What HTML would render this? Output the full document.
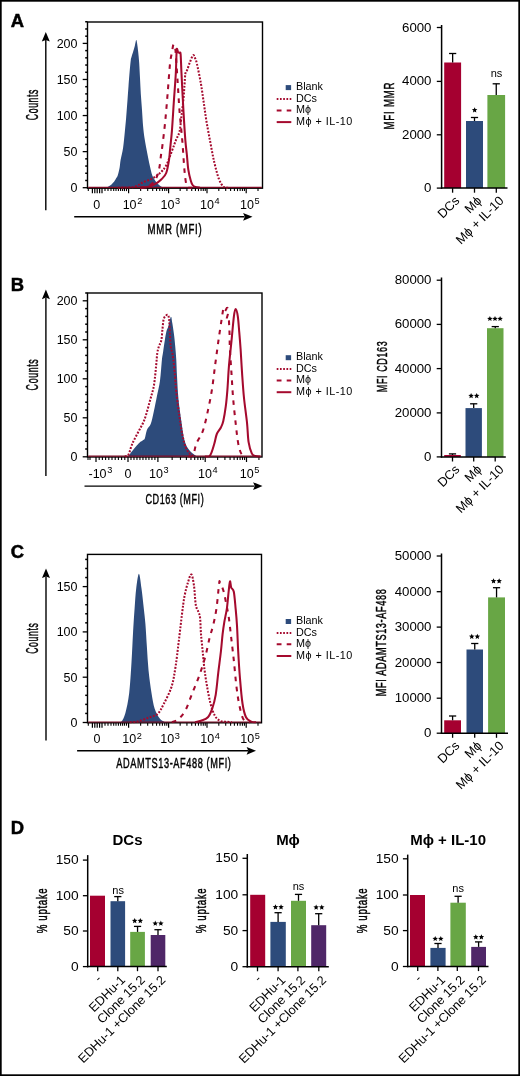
<!DOCTYPE html>
<html><head><meta charset="utf-8"><title>Figure</title>
<style>html,body{margin:0;padding:0;background:#fff;}svg{display:block;will-change:transform;}text{font-family:"Liberation Sans",sans-serif;}</style>
</head><body>
<svg width="520" height="1076" viewBox="0 0 520 1076" font-family="Liberation Sans, sans-serif">
<rect x="0" y="0" width="520" height="1076" fill="#fff"/>
<text x="10.7" y="26.8" font-size="18.4" text-anchor="start" font-weight="bold" fill="#000" stroke="#000" stroke-width="0.5">A</text>
<text x="10.7" y="291.3" font-size="18.4" text-anchor="start" font-weight="bold" fill="#000" stroke="#000" stroke-width="0.5">B</text>
<text x="10.7" y="557.6" font-size="18.4" text-anchor="start" font-weight="bold" fill="#000" stroke="#000" stroke-width="0.5">C</text>
<text x="10.7" y="833.8" font-size="18.4" text-anchor="start" font-weight="bold" fill="#000" stroke="#000" stroke-width="0.5">D</text>
<rect x="87.5" y="22" width="175" height="166.2" fill="none" stroke="#000" stroke-width="1.4"/>
<line x1="82.7" y1="187.7" x2="87.5" y2="187.7" stroke="#000" stroke-width="1.3" />
<line x1="85.2" y1="180.48" x2="87.5" y2="180.48" stroke="#000" stroke-width="1.5" />
<line x1="85.2" y1="173.27" x2="87.5" y2="173.27" stroke="#000" stroke-width="1.5" />
<line x1="85.2" y1="166.05" x2="87.5" y2="166.05" stroke="#000" stroke-width="1.5" />
<line x1="85.2" y1="158.84" x2="87.5" y2="158.84" stroke="#000" stroke-width="1.5" />
<line x1="82.7" y1="151.62" x2="87.5" y2="151.62" stroke="#000" stroke-width="1.3" />
<line x1="85.2" y1="144.41" x2="87.5" y2="144.41" stroke="#000" stroke-width="1.5" />
<line x1="85.2" y1="137.19" x2="87.5" y2="137.19" stroke="#000" stroke-width="1.5" />
<line x1="85.2" y1="129.98" x2="87.5" y2="129.98" stroke="#000" stroke-width="1.5" />
<line x1="85.2" y1="122.76" x2="87.5" y2="122.76" stroke="#000" stroke-width="1.5" />
<line x1="82.7" y1="115.55" x2="87.5" y2="115.55" stroke="#000" stroke-width="1.3" />
<line x1="85.2" y1="108.33" x2="87.5" y2="108.33" stroke="#000" stroke-width="1.5" />
<line x1="85.2" y1="101.12" x2="87.5" y2="101.12" stroke="#000" stroke-width="1.5" />
<line x1="85.2" y1="93.9" x2="87.5" y2="93.9" stroke="#000" stroke-width="1.5" />
<line x1="85.2" y1="86.69" x2="87.5" y2="86.69" stroke="#000" stroke-width="1.5" />
<line x1="82.7" y1="79.47" x2="87.5" y2="79.47" stroke="#000" stroke-width="1.3" />
<line x1="85.2" y1="72.26" x2="87.5" y2="72.26" stroke="#000" stroke-width="1.5" />
<line x1="85.2" y1="65.04" x2="87.5" y2="65.04" stroke="#000" stroke-width="1.5" />
<line x1="85.2" y1="57.83" x2="87.5" y2="57.83" stroke="#000" stroke-width="1.5" />
<line x1="85.2" y1="50.61" x2="87.5" y2="50.61" stroke="#000" stroke-width="1.5" />
<line x1="82.7" y1="43.4" x2="87.5" y2="43.4" stroke="#000" stroke-width="1.3" />
<line x1="85.2" y1="36.18" x2="87.5" y2="36.18" stroke="#000" stroke-width="1.5" />
<line x1="85.2" y1="28.97" x2="87.5" y2="28.97" stroke="#000" stroke-width="1.5" />
<line x1="85.2" y1="21.75" x2="87.5" y2="21.75" stroke="#000" stroke-width="1.5" />
<text x="77.5" y="192.1" font-size="12.5" text-anchor="end" font-weight="normal" fill="#000" >0</text>
<text x="77.5" y="156.03" font-size="12.5" text-anchor="end" font-weight="normal" fill="#000" >50</text>
<text x="77.5" y="119.95" font-size="12.5" text-anchor="end" font-weight="normal" fill="#000" >100</text>
<text x="77.5" y="83.87" font-size="12.5" text-anchor="end" font-weight="normal" fill="#000" >150</text>
<text x="77.5" y="47.8" font-size="12.5" text-anchor="end" font-weight="normal" fill="#000" >200</text>
<line x1="97.2" y1="188.2" x2="97.2" y2="193.2" stroke="#000" stroke-width="1.2" />
<line x1="128.6" y1="188.2" x2="128.6" y2="193.2" stroke="#000" stroke-width="1.2" />
<line x1="168.6" y1="188.2" x2="168.6" y2="193.2" stroke="#000" stroke-width="1.2" />
<line x1="207" y1="188.2" x2="207" y2="193.2" stroke="#000" stroke-width="1.2" />
<line x1="246.2" y1="188.2" x2="246.2" y2="193.2" stroke="#000" stroke-width="1.2" />
<line x1="92.4" y1="188.2" x2="92.4" y2="193.2" stroke="#000" stroke-width="1.2" />
<line x1="94.8" y1="188.2" x2="94.8" y2="193.2" stroke="#000" stroke-width="1.2" />
<line x1="99.6" y1="188.2" x2="99.6" y2="193.2" stroke="#000" stroke-width="1.2" />
<line x1="102" y1="188.2" x2="102" y2="193.2" stroke="#000" stroke-width="1.2" />
<line x1="88.3" y1="188.2" x2="88.3" y2="191.1" stroke="#000" stroke-width="1.1" />
<line x1="105" y1="188.2" x2="105" y2="191.1" stroke="#000" stroke-width="1.1" />
<line x1="108" y1="188.2" x2="108" y2="191.1" stroke="#000" stroke-width="1.1" />
<line x1="111" y1="188.2" x2="111" y2="191.1" stroke="#000" stroke-width="1.1" />
<line x1="113.7" y1="188.2" x2="113.7" y2="191.1" stroke="#000" stroke-width="1.1" />
<line x1="116" y1="188.2" x2="116" y2="191.1" stroke="#000" stroke-width="1.1" />
<line x1="118.4" y1="188.2" x2="118.4" y2="191.1" stroke="#000" stroke-width="1.1" />
<line x1="120.6" y1="188.2" x2="120.6" y2="191.1" stroke="#000" stroke-width="1.1" />
<line x1="122.6" y1="188.2" x2="122.6" y2="191.1" stroke="#000" stroke-width="1.1" />
<line x1="124.5" y1="188.2" x2="124.5" y2="191.1" stroke="#000" stroke-width="1.1" />
<line x1="126.5" y1="188.2" x2="126.5" y2="191.1" stroke="#000" stroke-width="1.1" />
<line x1="140.64" y1="188.2" x2="140.64" y2="191.1" stroke="#000" stroke-width="1.1" />
<line x1="147.68" y1="188.2" x2="147.68" y2="191.1" stroke="#000" stroke-width="1.1" />
<line x1="152.68" y1="188.2" x2="152.68" y2="191.1" stroke="#000" stroke-width="1.1" />
<line x1="156.56" y1="188.2" x2="156.56" y2="191.1" stroke="#000" stroke-width="1.1" />
<line x1="159.73" y1="188.2" x2="159.73" y2="191.1" stroke="#000" stroke-width="1.1" />
<line x1="162.4" y1="188.2" x2="162.4" y2="191.1" stroke="#000" stroke-width="1.1" />
<line x1="164.72" y1="188.2" x2="164.72" y2="191.1" stroke="#000" stroke-width="1.1" />
<line x1="166.77" y1="188.2" x2="166.77" y2="191.1" stroke="#000" stroke-width="1.1" />
<line x1="180.16" y1="188.2" x2="180.16" y2="191.1" stroke="#000" stroke-width="1.1" />
<line x1="186.92" y1="188.2" x2="186.92" y2="191.1" stroke="#000" stroke-width="1.1" />
<line x1="191.72" y1="188.2" x2="191.72" y2="191.1" stroke="#000" stroke-width="1.1" />
<line x1="195.44" y1="188.2" x2="195.44" y2="191.1" stroke="#000" stroke-width="1.1" />
<line x1="198.48" y1="188.2" x2="198.48" y2="191.1" stroke="#000" stroke-width="1.1" />
<line x1="201.05" y1="188.2" x2="201.05" y2="191.1" stroke="#000" stroke-width="1.1" />
<line x1="203.28" y1="188.2" x2="203.28" y2="191.1" stroke="#000" stroke-width="1.1" />
<line x1="205.24" y1="188.2" x2="205.24" y2="191.1" stroke="#000" stroke-width="1.1" />
<line x1="218.8" y1="188.2" x2="218.8" y2="191.1" stroke="#000" stroke-width="1.1" />
<line x1="225.7" y1="188.2" x2="225.7" y2="191.1" stroke="#000" stroke-width="1.1" />
<line x1="230.6" y1="188.2" x2="230.6" y2="191.1" stroke="#000" stroke-width="1.1" />
<line x1="234.4" y1="188.2" x2="234.4" y2="191.1" stroke="#000" stroke-width="1.1" />
<line x1="237.5" y1="188.2" x2="237.5" y2="191.1" stroke="#000" stroke-width="1.1" />
<line x1="240.13" y1="188.2" x2="240.13" y2="191.1" stroke="#000" stroke-width="1.1" />
<line x1="242.4" y1="188.2" x2="242.4" y2="191.1" stroke="#000" stroke-width="1.1" />
<line x1="244.41" y1="188.2" x2="244.41" y2="191.1" stroke="#000" stroke-width="1.1" />
<line x1="258" y1="188.2" x2="258" y2="191.1" stroke="#000" stroke-width="1.1" />
<text x="93.2" y="208.7" font-size="12.5" text-anchor="start" font-weight="normal" fill="#000" >0</text>
<text x="122.65" y="208.7" font-size="12.5">10<tspan dx="0.6" dy="-4.6" font-size="9.2">2</tspan></text>
<text x="160.45" y="208.7" font-size="12.5">10<tspan dx="0.6" dy="-4.6" font-size="9.2">3</tspan></text>
<text x="200.05" y="208.7" font-size="12.5">10<tspan dx="0.6" dy="-4.6" font-size="9.2">4</tspan></text>
<text x="240.05" y="208.7" font-size="12.5">10<tspan dx="0.6" dy="-4.6" font-size="9.2">5</tspan></text>
<path d="M103,187.7 C103.58,187.65 105.53,187.65 106.5,187.4 C107.47,187.15 107.97,186.68 108.8,186.2 C109.63,185.72 110.6,185.28 111.5,184.5 C112.4,183.72 113.4,182.58 114.2,181.5 C115,180.42 115.72,179.02 116.3,178 C116.88,176.98 117.15,177.12 117.7,175.4 C118.25,173.68 119.12,170.27 119.6,167.7 C120.08,165.13 120.02,163.33 120.6,160 C121.18,156.67 122.4,152.37 123.1,147.7 C123.8,143.03 124.28,137.13 124.8,132 C125.32,126.87 125.75,122.23 126.2,116.9 C126.65,111.57 127.12,105.12 127.5,100 C127.88,94.88 128.15,90.87 128.5,86.2 C128.85,81.53 129.22,76.37 129.6,72 C129.98,67.63 130.48,62.52 130.8,60 C131.12,57.48 131.1,58.32 131.5,56.9 C131.9,55.48 132.65,53.32 133.2,51.5 C133.75,49.68 134.3,47.92 134.8,46 C135.3,44.08 135.8,40.33 136.2,40 C136.6,39.67 136.87,42 137.2,44 C137.53,46 137.87,48.83 138.2,52 C138.53,55.17 138.9,58.67 139.2,63 C139.5,67.33 139.73,72.87 140,78 C140.27,83.13 140.47,88.47 140.8,93.8 C141.13,99.13 141.62,104.6 142,110 C142.38,115.4 142.68,121.53 143.1,126.2 C143.52,130.87 143.98,134.42 144.5,138 C145.02,141.58 145.65,144.7 146.2,147.7 C146.75,150.7 147.3,153.45 147.8,156 C148.3,158.55 148.7,160.67 149.2,163 C149.7,165.33 150.28,167.93 150.8,170 C151.32,172.07 151.68,173.82 152.3,175.4 C152.92,176.98 153.72,178.23 154.5,179.5 C155.28,180.77 155.83,181.78 157,183 C158.17,184.22 160,186.02 161.5,186.8 C163,187.58 165.25,187.55 166,187.7 Z" fill="#2d4b7b" stroke="none"/>
<path d="M118,187.7 C120.63,187.57 129.63,187.8 133.8,186.9 C137.97,186 139.92,183.7 143,182.3 C146.08,180.9 149.47,180.05 152.3,178.5 C155.13,176.95 157.68,175.18 160,173 C162.32,170.82 164.15,169.23 166.2,165.4 C168.25,161.57 170.67,154.23 172.3,150 C173.93,145.77 174.78,143.13 176,140 C177.22,136.87 178.68,135.23 179.6,131.2 C180.52,127.17 180.85,121.25 181.5,115.8 C182.15,110.35 183,103.63 183.5,98.5 C184,93.37 184.18,89.17 184.5,85 C184.82,80.83 184.93,76.07 185.4,73.5 C185.87,70.93 186.53,71.52 187.3,69.6 C188.07,67.68 189.03,64.4 190,62 C190.97,59.6 192.27,55.87 193.1,55.2 C193.93,54.53 194.37,56.57 195,58 C195.63,59.43 195.93,59.63 196.9,63.8 C197.87,67.97 199.67,76.58 200.8,83 C201.93,89.42 202.75,95.88 203.7,102.3 C204.65,108.72 205.38,114.77 206.5,121.5 C207.62,128.23 209.12,135.97 210.4,142.7 C211.68,149.43 212.77,155.82 214.2,161.9 C215.63,167.98 217.4,175.02 219,179.2 C220.6,183.38 222.3,185.58 223.8,187 C225.3,188.42 227.3,187.58 228,187.7" fill="none" stroke="#a50a2e" stroke-width="2.05" stroke-linejoin="round" stroke-dasharray="1.9 1.5"/>
<path d="M140,187.7 C140.83,187.58 143.17,187.53 145,187 C146.83,186.47 149.33,185.67 151,184.5 C152.67,183.33 153.92,181.58 155,180 C156.08,178.42 156.75,177.17 157.5,175 C158.25,172.83 158.92,170.33 159.5,167 C160.08,163.67 160.53,158.42 161,155 C161.47,151.58 161.6,152.08 162.3,146.5 C163,140.92 164.3,130.47 165.2,121.5 C166.1,112.53 166.9,102.32 167.7,92.7 C168.5,83.08 169.28,70.58 170,63.8 C170.72,57.02 171.42,55.27 172,52 C172.58,48.73 173,44.87 173.5,44.2 C174,43.53 174.62,46.33 175,48 C175.38,49.67 175.35,48.37 175.8,54.2 C176.25,60.03 177.07,73.38 177.7,83 C178.33,92.62 178.83,102.27 179.6,111.9 C180.37,121.53 181.5,131.18 182.3,140.8 C183.1,150.42 183.75,162.4 184.4,169.6 C185.05,176.8 185.6,181.02 186.2,184 C186.8,186.98 187.03,186.88 188,187.5 C188.97,188.12 191.33,187.67 192,187.7" fill="none" stroke="#a50a2e" stroke-width="2.05" stroke-linejoin="round" stroke-dasharray="4.6 5.4"/>
<path d="M140,187.7 C141.28,187.58 145.13,187.65 147.7,187 C150.27,186.35 153.1,185.1 155.4,183.8 C157.7,182.5 159.7,181 161.5,179.2 C163.3,177.4 164.95,176.2 166.2,173 C167.45,169.8 168.37,163.83 169,160 C169.63,156.17 169.52,154.8 170,150 C170.48,145.2 171.27,139.15 171.9,131.2 C172.53,123.25 173.15,111.92 173.8,102.3 C174.45,92.68 175.32,82.22 175.8,73.5 C176.28,64.78 176.33,53.58 176.7,50 C177.07,46.42 177.53,51.5 178,52 C178.47,52.5 179.07,52.63 179.5,53 C179.93,53.37 180.27,50.78 180.6,54.2 C180.93,57.62 181.02,63.88 181.5,73.5 C181.98,83.12 182.85,100.68 183.5,111.9 C184.15,123.12 184.83,133.62 185.4,140.8 C185.97,147.98 186.42,150.2 186.9,155 C187.38,159.8 187.65,165.3 188.3,169.6 C188.95,173.9 190.08,178.23 190.8,180.8 C191.52,183.37 191.83,183.97 192.6,185 C193.37,186.03 194.17,186.55 195.4,187 C196.63,187.45 199.23,187.58 200,187.7" fill="none" stroke="#a50a2e" stroke-width="2.05" stroke-linejoin="round" />
<line x1="88.2" y1="187.4" x2="261.8" y2="187.4" stroke="#7d0a24" stroke-width="1.2" />
<line x1="45.8" y1="210.2" x2="45.8" y2="40" stroke="#000" stroke-width="1.4" />
<path d="M45.8,32 L41.8,41.6 L45.8,39.9 L49.8,41.6 Z" fill="#000"/>
<line x1="74.2" y1="216.8" x2="244.5" y2="216.8" stroke="#000" stroke-width="1.4" />
<path d="M252.5,216.8 L243.1,212.9 L244.8,216.8 L243.1,220.7 Z" fill="#000"/>
<text transform="translate(37.6,104.9) rotate(-90) scale(0.5251,1)" x="0" y="0" font-size="16.5" text-anchor="middle" textLength="58.09" lengthAdjust="spacing" stroke="#000" stroke-width="0.45">Counts</text>
<text transform="translate(174.6,233.8) scale(0.6657,1)" x="0" y="0" font-size="14.5" text-anchor="middle" textLength="81.42" lengthAdjust="spacing" stroke="#000" stroke-width="0.45">MMR (MFI)</text>
<rect x="285.7" y="85.1" width="5.4" height="5" fill="#2d4b7b"/>
<text x="296" y="90.1" font-size="10.8" text-anchor="start" font-weight="normal" fill="#000" >Blank</text>
<text x="296" y="101.7" font-size="10.8" text-anchor="start" font-weight="normal" fill="#000" >DCs</text>
<text x="296" y="113.3" font-size="10.8" text-anchor="start" font-weight="normal" fill="#000" >M&#981;</text>
<text x="296" y="125.1" font-size="10.8" text-anchor="start" font-weight="normal" fill="#000" textLength="56.3" lengthAdjust="spacing">M&#981; + IL-10</text>
<line x1="276.7" y1="99" x2="291.3" y2="99" stroke="#a50a2e" stroke-width="2" stroke-dasharray="1.7 1.55"/>
<line x1="276.7" y1="110.4" x2="291.3" y2="110.4" stroke="#a50a2e" stroke-width="2" stroke-dasharray="4.8 5.2"/>
<line x1="276.7" y1="122.1" x2="291.3" y2="122.1" stroke="#a50a2e" stroke-width="2" />
<rect x="87.5" y="293" width="174.5" height="164" fill="none" stroke="#000" stroke-width="1.4"/>
<line x1="82.7" y1="456.8" x2="87.5" y2="456.8" stroke="#000" stroke-width="1.3" />
<line x1="85.2" y1="449" x2="87.5" y2="449" stroke="#000" stroke-width="1.5" />
<line x1="85.2" y1="441.2" x2="87.5" y2="441.2" stroke="#000" stroke-width="1.5" />
<line x1="85.2" y1="433.4" x2="87.5" y2="433.4" stroke="#000" stroke-width="1.5" />
<line x1="85.2" y1="425.6" x2="87.5" y2="425.6" stroke="#000" stroke-width="1.5" />
<line x1="82.7" y1="417.8" x2="87.5" y2="417.8" stroke="#000" stroke-width="1.3" />
<line x1="85.2" y1="410" x2="87.5" y2="410" stroke="#000" stroke-width="1.5" />
<line x1="85.2" y1="402.2" x2="87.5" y2="402.2" stroke="#000" stroke-width="1.5" />
<line x1="85.2" y1="394.4" x2="87.5" y2="394.4" stroke="#000" stroke-width="1.5" />
<line x1="85.2" y1="386.6" x2="87.5" y2="386.6" stroke="#000" stroke-width="1.5" />
<line x1="82.7" y1="378.8" x2="87.5" y2="378.8" stroke="#000" stroke-width="1.3" />
<line x1="85.2" y1="371" x2="87.5" y2="371" stroke="#000" stroke-width="1.5" />
<line x1="85.2" y1="363.2" x2="87.5" y2="363.2" stroke="#000" stroke-width="1.5" />
<line x1="85.2" y1="355.4" x2="87.5" y2="355.4" stroke="#000" stroke-width="1.5" />
<line x1="85.2" y1="347.6" x2="87.5" y2="347.6" stroke="#000" stroke-width="1.5" />
<line x1="82.7" y1="339.8" x2="87.5" y2="339.8" stroke="#000" stroke-width="1.3" />
<line x1="85.2" y1="332" x2="87.5" y2="332" stroke="#000" stroke-width="1.5" />
<line x1="85.2" y1="324.2" x2="87.5" y2="324.2" stroke="#000" stroke-width="1.5" />
<line x1="85.2" y1="316.4" x2="87.5" y2="316.4" stroke="#000" stroke-width="1.5" />
<line x1="85.2" y1="308.6" x2="87.5" y2="308.6" stroke="#000" stroke-width="1.5" />
<line x1="82.7" y1="300.8" x2="87.5" y2="300.8" stroke="#000" stroke-width="1.3" />
<line x1="85.2" y1="293" x2="87.5" y2="293" stroke="#000" stroke-width="1.5" />
<text x="77.5" y="461.2" font-size="12.5" text-anchor="end" font-weight="normal" fill="#000" >0</text>
<text x="77.5" y="422.2" font-size="12.5" text-anchor="end" font-weight="normal" fill="#000" >50</text>
<text x="77.5" y="383.2" font-size="12.5" text-anchor="end" font-weight="normal" fill="#000" >100</text>
<text x="77.5" y="344.2" font-size="12.5" text-anchor="end" font-weight="normal" fill="#000" >150</text>
<text x="77.5" y="305.2" font-size="12.5" text-anchor="end" font-weight="normal" fill="#000" >200</text>
<line x1="96" y1="457" x2="96" y2="462" stroke="#000" stroke-width="1.2" />
<line x1="128" y1="457" x2="128" y2="462" stroke="#000" stroke-width="1.2" />
<line x1="157.9" y1="457" x2="157.9" y2="462" stroke="#000" stroke-width="1.2" />
<line x1="205.2" y1="457" x2="205.2" y2="462" stroke="#000" stroke-width="1.2" />
<line x1="246.5" y1="457" x2="246.5" y2="462" stroke="#000" stroke-width="1.2" />
<line x1="88" y1="457" x2="88" y2="459.9" stroke="#000" stroke-width="1.1" />
<line x1="90" y1="457" x2="90" y2="459.9" stroke="#000" stroke-width="1.1" />
<line x1="99.2" y1="457" x2="99.2" y2="459.9" stroke="#000" stroke-width="1.1" />
<line x1="102.4" y1="457" x2="102.4" y2="459.9" stroke="#000" stroke-width="1.1" />
<line x1="105.6" y1="457" x2="105.6" y2="459.9" stroke="#000" stroke-width="1.1" />
<line x1="108.8" y1="457" x2="108.8" y2="459.9" stroke="#000" stroke-width="1.1" />
<line x1="112" y1="457" x2="112" y2="459.9" stroke="#000" stroke-width="1.1" />
<line x1="115.2" y1="457" x2="115.2" y2="459.9" stroke="#000" stroke-width="1.1" />
<line x1="118.4" y1="457" x2="118.4" y2="459.9" stroke="#000" stroke-width="1.1" />
<line x1="121.6" y1="457" x2="121.6" y2="459.9" stroke="#000" stroke-width="1.1" />
<line x1="124.8" y1="457" x2="124.8" y2="459.9" stroke="#000" stroke-width="1.1" />
<line x1="130.99" y1="457" x2="130.99" y2="459.9" stroke="#000" stroke-width="1.1" />
<line x1="133.98" y1="457" x2="133.98" y2="459.9" stroke="#000" stroke-width="1.1" />
<line x1="136.97" y1="457" x2="136.97" y2="459.9" stroke="#000" stroke-width="1.1" />
<line x1="139.96" y1="457" x2="139.96" y2="459.9" stroke="#000" stroke-width="1.1" />
<line x1="142.95" y1="457" x2="142.95" y2="459.9" stroke="#000" stroke-width="1.1" />
<line x1="145.94" y1="457" x2="145.94" y2="459.9" stroke="#000" stroke-width="1.1" />
<line x1="148.93" y1="457" x2="148.93" y2="459.9" stroke="#000" stroke-width="1.1" />
<line x1="151.92" y1="457" x2="151.92" y2="459.9" stroke="#000" stroke-width="1.1" />
<line x1="154.91" y1="457" x2="154.91" y2="459.9" stroke="#000" stroke-width="1.1" />
<line x1="172.14" y1="457" x2="172.14" y2="459.9" stroke="#000" stroke-width="1.1" />
<line x1="180.47" y1="457" x2="180.47" y2="459.9" stroke="#000" stroke-width="1.1" />
<line x1="186.38" y1="457" x2="186.38" y2="459.9" stroke="#000" stroke-width="1.1" />
<line x1="190.96" y1="457" x2="190.96" y2="459.9" stroke="#000" stroke-width="1.1" />
<line x1="194.71" y1="457" x2="194.71" y2="459.9" stroke="#000" stroke-width="1.1" />
<line x1="197.87" y1="457" x2="197.87" y2="459.9" stroke="#000" stroke-width="1.1" />
<line x1="200.62" y1="457" x2="200.62" y2="459.9" stroke="#000" stroke-width="1.1" />
<line x1="203.04" y1="457" x2="203.04" y2="459.9" stroke="#000" stroke-width="1.1" />
<line x1="217.63" y1="457" x2="217.63" y2="459.9" stroke="#000" stroke-width="1.1" />
<line x1="224.91" y1="457" x2="224.91" y2="459.9" stroke="#000" stroke-width="1.1" />
<line x1="230.07" y1="457" x2="230.07" y2="459.9" stroke="#000" stroke-width="1.1" />
<line x1="234.07" y1="457" x2="234.07" y2="459.9" stroke="#000" stroke-width="1.1" />
<line x1="237.34" y1="457" x2="237.34" y2="459.9" stroke="#000" stroke-width="1.1" />
<line x1="240.1" y1="457" x2="240.1" y2="459.9" stroke="#000" stroke-width="1.1" />
<line x1="242.5" y1="457" x2="242.5" y2="459.9" stroke="#000" stroke-width="1.1" />
<line x1="244.61" y1="457" x2="244.61" y2="459.9" stroke="#000" stroke-width="1.1" />
<line x1="258.93" y1="457" x2="258.93" y2="459.9" stroke="#000" stroke-width="1.1" />
<text x="88.5" y="477.7" font-size="12.5">-10<tspan dx="0.6" dy="-4.6" font-size="9.2">3</tspan></text>
<text x="124.4" y="477.7" font-size="12.5" text-anchor="start" font-weight="normal" fill="#000" >0</text>
<text x="149.05" y="477.7" font-size="12.5">10<tspan dx="0.6" dy="-4.6" font-size="9.2">3</tspan></text>
<text x="198.05" y="477.7" font-size="12.5">10<tspan dx="0.6" dy="-4.6" font-size="9.2">4</tspan></text>
<text x="239.85" y="477.7" font-size="12.5">10<tspan dx="0.6" dy="-4.6" font-size="9.2">5</tspan></text>
<path d="M127.6,456.8 C127.77,456.67 128.03,456.7 128.6,456 C129.17,455.3 130.1,453.8 131,452.6 C131.9,451.4 133,450.02 134,448.8 C135,447.58 135.97,446.43 137,445.3 C138.03,444.17 139.27,442.82 140.2,442 C141.13,441.18 141.83,440.97 142.6,440.4 C143.37,439.83 144.08,440.33 144.8,438.6 C145.52,436.87 145.9,432.47 146.9,430 C147.9,427.53 149.65,426.88 150.8,423.8 C151.95,420.72 152.78,416.1 153.8,411.5 C154.82,406.9 155.87,401.32 156.9,396.2 C157.93,391.08 159.17,386.83 160,380.8 C160.83,374.77 161.38,364.82 161.9,360 C162.42,355.18 162.62,355.17 163.1,351.9 C163.58,348.63 164.23,343.87 164.8,340.4 C165.37,336.93 165.92,333.42 166.5,331.1 C167.08,328.78 167.57,328.9 168.3,326.5 C169.03,324.1 170.23,317.28 170.9,316.7 C171.57,316.12 171.78,320.02 172.3,323 C172.82,325.98 173.52,330.75 174,334.6 C174.48,338.45 174.82,341.87 175.2,346.1 C175.58,350.33 176,355.02 176.3,360 C176.6,364.98 176.63,369.47 177,376 C177.37,382.53 177.75,391.48 178.5,399.2 C179.25,406.92 180.48,415.37 181.5,422.3 C182.52,429.23 183.32,436.18 184.6,440.8 C185.88,445.42 187.4,447.57 189.2,450 C191,452.43 193.93,454.32 195.4,455.4 C196.87,456.48 197.57,456.32 198,456.5 Z" fill="#2d4b7b" stroke="none"/>
<path d="M125,456.5 C125.58,456.18 127.28,456.72 128.5,454.6 C129.72,452.48 130.63,447.65 132.3,443.8 C133.97,439.95 136.45,435.6 138.5,431.5 C140.55,427.4 142.55,424.83 144.6,419.2 C146.65,413.57 149.23,403.4 150.8,397.7 C152.37,392 153.12,390.28 154,385 C154.88,379.72 155.55,371.33 156.1,366 C156.65,360.67 156.82,356.32 157.3,353 C157.78,349.68 158.33,348.2 159,346.1 C159.67,344 160.72,343.28 161.3,340.4 C161.88,337.52 162.12,332.27 162.5,328.8 C162.88,325.33 163.1,321.73 163.6,319.6 C164.1,317.47 164.82,316.8 165.5,316 C166.18,315.2 167.15,314.58 167.7,314.8 C168.25,315.02 168.52,315.93 168.8,317.3 C169.08,318.67 169.2,320.12 169.4,323 C169.6,325.88 169.8,330.75 170,334.6 C170.2,338.45 170.22,343.03 170.6,346.1 C170.98,349.17 171.83,350.68 172.3,353 C172.77,355.32 172.95,356.17 173.4,360 C173.85,363.83 174.53,370.75 175,376 C175.47,381.25 175.5,385.07 176.2,391.5 C176.9,397.93 178.18,407.42 179.2,414.6 C180.22,421.78 181.13,428.95 182.3,434.6 C183.47,440.25 184.78,445.17 186.2,448.5 C187.62,451.83 189.33,453.27 190.8,454.6 C192.27,455.93 194.3,456.18 195,456.5" fill="none" stroke="#a50a2e" stroke-width="2.05" stroke-linejoin="round" stroke-dasharray="1.9 1.5"/>
<path d="M188,456.5 C188.85,456.3 191.72,457.42 193.1,455.3 C194.48,453.18 194.67,447.88 196.3,443.8 C197.93,439.72 200.98,436.25 202.9,430.8 C204.82,425.35 206.3,417.92 207.8,411.1 C209.3,404.28 210.68,397.52 211.9,389.9 C213.12,382.28 214.02,373.57 215.1,365.4 C216.18,357.23 217.55,347 218.4,340.9 C219.25,334.8 219.67,332.37 220.2,328.8 C220.73,325.23 221.2,322.13 221.6,319.5 C222,316.87 222.28,314.83 222.6,313 C222.92,311.17 223.13,308.78 223.5,308.5 C223.87,308.22 224.35,311.18 224.8,311.3 C225.25,311.42 225.77,309.78 226.2,309.2 C226.63,308.62 227.08,307.2 227.4,307.8 C227.72,308.4 228.2,311.02 228.1,312.8 C228,314.58 226.72,317.7 226.8,318.5 C226.88,319.3 228.2,316.35 228.6,317.6 C229,318.85 229.03,323.1 229.2,326 C229.37,328.9 229.48,331.17 229.6,335 C229.72,338.83 229.58,342.57 229.9,349 C230.22,355.43 230.97,365.43 231.5,373.6 C232.03,381.77 232.42,389.83 233.1,398 C233.78,406.17 234.78,415.23 235.6,422.6 C236.42,429.97 237.18,437.3 238,442.2 C238.82,447.1 239.68,449.82 240.5,452 C241.32,454.18 241.98,454.55 242.9,455.3 C243.82,456.05 245.48,456.3 246,456.5" fill="none" stroke="#a50a2e" stroke-width="2.05" stroke-linejoin="round" stroke-dasharray="4.6 5.4"/>
<path d="M205,456.5 C205.87,456.3 208.65,457.42 210.2,455.3 C211.75,453.18 213.2,447.35 214.3,443.8 C215.4,440.25 215.7,436.72 216.8,434 C217.9,431.28 219.82,429.67 220.9,427.5 C221.98,425.33 222.48,424.55 223.3,421 C224.12,417.45 225.12,411.38 225.8,406.2 C226.48,401.02 226.87,396.7 227.4,389.9 C227.93,383.1 228.32,373.57 229,365.4 C229.68,357.23 230.68,349.08 231.5,340.9 C232.32,332.72 233.22,321.62 233.9,316.3 C234.58,310.98 234.95,309 235.6,309 C236.25,309 237.18,312.35 237.8,316.3 C238.42,320.25 238.83,327.25 239.3,332.7 C239.77,338.15 240.13,342.18 240.6,349 C241.07,355.82 241.53,365.43 242.1,373.6 C242.67,381.77 243.18,389.83 244,398 C244.82,406.17 246.23,415.23 247,422.6 C247.77,429.97 247.78,437.03 248.6,442.2 C249.42,447.37 250.8,451.3 251.9,453.6 C253,455.9 253.85,455.52 255.2,456 C256.55,456.48 259.2,456.42 260,456.5" fill="none" stroke="#a50a2e" stroke-width="2.05" stroke-linejoin="round" />
<line x1="88.2" y1="456.2" x2="261.3" y2="456.2" stroke="#7d0a24" stroke-width="1.2" />
<line x1="45.9" y1="476" x2="45.9" y2="297.6" stroke="#000" stroke-width="1.4" />
<path d="M45.9,289.6 L41.9,299.2 L45.9,297.5 L49.9,299.2 Z" fill="#000"/>
<line x1="84.5" y1="486.1" x2="254.5" y2="486.1" stroke="#000" stroke-width="1.4" />
<path d="M262.5,486.1 L253.1,482.2 L254.8,486.1 L253.1,490 Z" fill="#000"/>
<text transform="translate(38,374.8) rotate(-90) scale(0.5371,1)" x="0" y="0" font-size="16.5" text-anchor="middle" textLength="58.09" lengthAdjust="spacing" stroke="#000" stroke-width="0.45">Counts</text>
<text transform="translate(174.6,503.5) scale(0.6262,1)" x="0" y="0" font-size="14.5" text-anchor="middle" textLength="93.1" lengthAdjust="spacing" stroke="#000" stroke-width="0.45">CD163 (MFI)</text>
<rect x="285.7" y="355.2" width="5.4" height="5" fill="#2d4b7b"/>
<text x="296" y="360.2" font-size="10.8" text-anchor="start" font-weight="normal" fill="#000" >Blank</text>
<text x="296" y="371.8" font-size="10.8" text-anchor="start" font-weight="normal" fill="#000" >DCs</text>
<text x="296" y="383.4" font-size="10.8" text-anchor="start" font-weight="normal" fill="#000" >M&#981;</text>
<text x="296" y="395.2" font-size="10.8" text-anchor="start" font-weight="normal" fill="#000" textLength="56.3" lengthAdjust="spacing">M&#981; + IL-10</text>
<line x1="276.7" y1="369.1" x2="291.3" y2="369.1" stroke="#a50a2e" stroke-width="2" stroke-dasharray="1.7 1.55"/>
<line x1="276.7" y1="380.5" x2="291.3" y2="380.5" stroke="#a50a2e" stroke-width="2" stroke-dasharray="4.8 5.2"/>
<line x1="276.7" y1="392.2" x2="291.3" y2="392.2" stroke="#a50a2e" stroke-width="2" />
<rect x="87.5" y="554.4" width="174" height="168.4" fill="none" stroke="#000" stroke-width="1.4"/>
<line x1="82.7" y1="722.5" x2="87.5" y2="722.5" stroke="#000" stroke-width="1.3" />
<line x1="85.2" y1="713.44" x2="87.5" y2="713.44" stroke="#000" stroke-width="1.5" />
<line x1="85.2" y1="704.38" x2="87.5" y2="704.38" stroke="#000" stroke-width="1.5" />
<line x1="85.2" y1="695.32" x2="87.5" y2="695.32" stroke="#000" stroke-width="1.5" />
<line x1="85.2" y1="686.26" x2="87.5" y2="686.26" stroke="#000" stroke-width="1.5" />
<line x1="82.7" y1="677.2" x2="87.5" y2="677.2" stroke="#000" stroke-width="1.3" />
<line x1="85.2" y1="668.14" x2="87.5" y2="668.14" stroke="#000" stroke-width="1.5" />
<line x1="85.2" y1="659.08" x2="87.5" y2="659.08" stroke="#000" stroke-width="1.5" />
<line x1="85.2" y1="650.02" x2="87.5" y2="650.02" stroke="#000" stroke-width="1.5" />
<line x1="85.2" y1="640.96" x2="87.5" y2="640.96" stroke="#000" stroke-width="1.5" />
<line x1="82.7" y1="631.9" x2="87.5" y2="631.9" stroke="#000" stroke-width="1.3" />
<line x1="85.2" y1="622.84" x2="87.5" y2="622.84" stroke="#000" stroke-width="1.5" />
<line x1="85.2" y1="613.78" x2="87.5" y2="613.78" stroke="#000" stroke-width="1.5" />
<line x1="85.2" y1="604.72" x2="87.5" y2="604.72" stroke="#000" stroke-width="1.5" />
<line x1="85.2" y1="595.66" x2="87.5" y2="595.66" stroke="#000" stroke-width="1.5" />
<line x1="82.7" y1="586.6" x2="87.5" y2="586.6" stroke="#000" stroke-width="1.3" />
<line x1="85.2" y1="577.54" x2="87.5" y2="577.54" stroke="#000" stroke-width="1.5" />
<line x1="85.2" y1="568.48" x2="87.5" y2="568.48" stroke="#000" stroke-width="1.5" />
<line x1="85.2" y1="559.42" x2="87.5" y2="559.42" stroke="#000" stroke-width="1.5" />
<text x="77.5" y="726.9" font-size="12.5" text-anchor="end" font-weight="normal" fill="#000" >0</text>
<text x="77.5" y="681.6" font-size="12.5" text-anchor="end" font-weight="normal" fill="#000" >50</text>
<text x="77.5" y="636.3" font-size="12.5" text-anchor="end" font-weight="normal" fill="#000" >100</text>
<text x="77.5" y="591" font-size="12.5" text-anchor="end" font-weight="normal" fill="#000" >150</text>
<line x1="97.2" y1="722.8" x2="97.2" y2="727.8" stroke="#000" stroke-width="1.2" />
<line x1="128.6" y1="722.8" x2="128.6" y2="727.8" stroke="#000" stroke-width="1.2" />
<line x1="168.6" y1="722.8" x2="168.6" y2="727.8" stroke="#000" stroke-width="1.2" />
<line x1="207" y1="722.8" x2="207" y2="727.8" stroke="#000" stroke-width="1.2" />
<line x1="246.2" y1="722.8" x2="246.2" y2="727.8" stroke="#000" stroke-width="1.2" />
<line x1="92.4" y1="722.8" x2="92.4" y2="727.8" stroke="#000" stroke-width="1.2" />
<line x1="94.8" y1="722.8" x2="94.8" y2="727.8" stroke="#000" stroke-width="1.2" />
<line x1="99.6" y1="722.8" x2="99.6" y2="727.8" stroke="#000" stroke-width="1.2" />
<line x1="102" y1="722.8" x2="102" y2="727.8" stroke="#000" stroke-width="1.2" />
<line x1="88.3" y1="722.8" x2="88.3" y2="725.7" stroke="#000" stroke-width="1.1" />
<line x1="105" y1="722.8" x2="105" y2="725.7" stroke="#000" stroke-width="1.1" />
<line x1="108" y1="722.8" x2="108" y2="725.7" stroke="#000" stroke-width="1.1" />
<line x1="111" y1="722.8" x2="111" y2="725.7" stroke="#000" stroke-width="1.1" />
<line x1="113.7" y1="722.8" x2="113.7" y2="725.7" stroke="#000" stroke-width="1.1" />
<line x1="116" y1="722.8" x2="116" y2="725.7" stroke="#000" stroke-width="1.1" />
<line x1="118.4" y1="722.8" x2="118.4" y2="725.7" stroke="#000" stroke-width="1.1" />
<line x1="120.6" y1="722.8" x2="120.6" y2="725.7" stroke="#000" stroke-width="1.1" />
<line x1="122.6" y1="722.8" x2="122.6" y2="725.7" stroke="#000" stroke-width="1.1" />
<line x1="124.5" y1="722.8" x2="124.5" y2="725.7" stroke="#000" stroke-width="1.1" />
<line x1="126.5" y1="722.8" x2="126.5" y2="725.7" stroke="#000" stroke-width="1.1" />
<line x1="140.64" y1="722.8" x2="140.64" y2="725.7" stroke="#000" stroke-width="1.1" />
<line x1="147.68" y1="722.8" x2="147.68" y2="725.7" stroke="#000" stroke-width="1.1" />
<line x1="152.68" y1="722.8" x2="152.68" y2="725.7" stroke="#000" stroke-width="1.1" />
<line x1="156.56" y1="722.8" x2="156.56" y2="725.7" stroke="#000" stroke-width="1.1" />
<line x1="159.73" y1="722.8" x2="159.73" y2="725.7" stroke="#000" stroke-width="1.1" />
<line x1="162.4" y1="722.8" x2="162.4" y2="725.7" stroke="#000" stroke-width="1.1" />
<line x1="164.72" y1="722.8" x2="164.72" y2="725.7" stroke="#000" stroke-width="1.1" />
<line x1="166.77" y1="722.8" x2="166.77" y2="725.7" stroke="#000" stroke-width="1.1" />
<line x1="180.16" y1="722.8" x2="180.16" y2="725.7" stroke="#000" stroke-width="1.1" />
<line x1="186.92" y1="722.8" x2="186.92" y2="725.7" stroke="#000" stroke-width="1.1" />
<line x1="191.72" y1="722.8" x2="191.72" y2="725.7" stroke="#000" stroke-width="1.1" />
<line x1="195.44" y1="722.8" x2="195.44" y2="725.7" stroke="#000" stroke-width="1.1" />
<line x1="198.48" y1="722.8" x2="198.48" y2="725.7" stroke="#000" stroke-width="1.1" />
<line x1="201.05" y1="722.8" x2="201.05" y2="725.7" stroke="#000" stroke-width="1.1" />
<line x1="203.28" y1="722.8" x2="203.28" y2="725.7" stroke="#000" stroke-width="1.1" />
<line x1="205.24" y1="722.8" x2="205.24" y2="725.7" stroke="#000" stroke-width="1.1" />
<line x1="218.8" y1="722.8" x2="218.8" y2="725.7" stroke="#000" stroke-width="1.1" />
<line x1="225.7" y1="722.8" x2="225.7" y2="725.7" stroke="#000" stroke-width="1.1" />
<line x1="230.6" y1="722.8" x2="230.6" y2="725.7" stroke="#000" stroke-width="1.1" />
<line x1="234.4" y1="722.8" x2="234.4" y2="725.7" stroke="#000" stroke-width="1.1" />
<line x1="237.5" y1="722.8" x2="237.5" y2="725.7" stroke="#000" stroke-width="1.1" />
<line x1="240.13" y1="722.8" x2="240.13" y2="725.7" stroke="#000" stroke-width="1.1" />
<line x1="242.4" y1="722.8" x2="242.4" y2="725.7" stroke="#000" stroke-width="1.1" />
<line x1="244.41" y1="722.8" x2="244.41" y2="725.7" stroke="#000" stroke-width="1.1" />
<line x1="258" y1="722.8" x2="258" y2="725.7" stroke="#000" stroke-width="1.1" />
<text x="93.6" y="743.4" font-size="12.5" text-anchor="start" font-weight="normal" fill="#000" >0</text>
<text x="122.25" y="743.4" font-size="12.5">10<tspan dx="0.6" dy="-4.6" font-size="9.2">2</tspan></text>
<text x="160.25" y="743.4" font-size="12.5">10<tspan dx="0.6" dy="-4.6" font-size="9.2">3</tspan></text>
<text x="200.25" y="743.4" font-size="12.5">10<tspan dx="0.6" dy="-4.6" font-size="9.2">4</tspan></text>
<text x="240.25" y="743.4" font-size="12.5">10<tspan dx="0.6" dy="-4.6" font-size="9.2">5</tspan></text>
<path d="M118,722.3 C118.58,722.17 120.27,723.05 121.5,721.5 C122.73,719.95 124.12,717.75 125.4,713 C126.68,708.25 128.18,701.45 129.2,693 C130.22,684.55 130.85,672.55 131.5,662.3 C132.15,652.05 132.58,640.47 133.1,631.5 C133.62,622.53 134.08,615.67 134.6,608.5 C135.12,601.33 135.48,594.28 136.2,588.5 C136.92,582.72 138.02,573.8 138.9,573.8 C139.78,573.8 140.68,582.72 141.5,588.5 C142.32,594.28 143.15,602.62 143.8,608.5 C144.45,614.38 144.88,617.4 145.4,623.8 C145.92,630.2 146.38,639.2 146.9,646.9 C147.42,654.6 147.73,662.32 148.5,670 C149.27,677.68 150.48,686.58 151.5,693 C152.52,699.42 153.32,704.38 154.6,708.5 C155.88,712.62 157.67,715.53 159.2,717.7 C160.73,719.87 162.5,720.73 163.8,721.5 C165.1,722.27 166.47,722.17 167,722.3 Z" fill="#2d4b7b" stroke="none"/>
<path d="M130,722.3 C131.28,722.17 134.62,722.27 137.7,721.5 C140.78,720.73 145.17,718.98 148.5,717.7 C151.83,716.42 155.15,716.12 157.7,713.8 C160.25,711.48 161.5,708.28 163.8,703.8 C166.1,699.32 169.55,693.03 171.5,686.9 C173.45,680.77 174.28,674.65 175.5,667 C176.72,659.35 177.72,649.83 178.8,641 C179.88,632.17 181.05,621.47 182,614 C182.95,606.53 183.5,601.48 184.5,596.2 C185.5,590.92 186.85,585.92 188,582.3 C189.15,578.68 190.4,573.92 191.4,574.5 C192.4,575.08 193.27,580.72 194,585.8 C194.73,590.88 195.05,600.63 195.8,605 C196.55,609.37 197.78,609.83 198.5,612 C199.22,614.17 199.68,614.3 200.1,618 C200.52,621.7 200.57,628.62 201,634.2 C201.43,639.78 202.13,645.73 202.7,651.5 C203.27,657.27 203.68,663.03 204.4,668.8 C205.12,674.57 205.98,680.32 207,686.1 C208.02,691.88 209.2,698.58 210.5,703.5 C211.8,708.42 213.22,712.72 214.8,715.6 C216.38,718.48 217.98,719.77 220,720.8 C222.02,721.83 224.9,721.55 226.9,721.8 C228.9,722.05 231.15,722.22 232,722.3" fill="none" stroke="#a50a2e" stroke-width="2.05" stroke-linejoin="round" stroke-dasharray="1.9 1.5"/>
<path d="M172,722.3 C173.08,721.75 176.27,720.98 178.5,719 C180.73,717.02 183.1,714.72 185.4,710.4 C187.7,706.08 190,698.87 192.3,693.1 C194.6,687.33 197.03,681.87 199.2,675.8 C201.37,669.73 203.57,663.05 205.3,656.7 C207.03,650.35 208.3,642.88 209.6,637.7 C210.9,632.52 211.95,630.5 213.1,625.6 C214.25,620.7 215.5,615.23 216.5,608.3 C217.5,601.37 218.52,588.33 219.1,584 C219.68,579.67 219.27,581.13 220,582.3 C220.73,583.47 222.48,587.53 223.5,591 C224.52,594.47 225.23,598.78 226.1,603.1 C226.97,607.42 227.85,611.13 228.7,616.9 C229.55,622.67 230.35,630.48 231.2,637.7 C232.05,644.92 232.93,652.13 233.8,660.2 C234.67,668.27 235.53,678.88 236.4,686.1 C237.27,693.32 237.98,698.3 239,703.5 C240.02,708.7 241.33,714.28 242.5,717.3 C243.67,720.32 244.75,720.77 246,721.6 C247.25,722.43 249.33,722.18 250,722.3" fill="none" stroke="#a50a2e" stroke-width="2.05" stroke-linejoin="round" stroke-dasharray="4.6 5.4"/>
<path d="M195,722.3 C196,722.05 198.85,721.63 201,720.8 C203.15,719.97 206.03,719.33 207.9,717.3 C209.77,715.27 210.9,712.35 212.2,708.6 C213.5,704.85 214.68,700.85 215.7,694.8 C216.72,688.75 217.43,679.52 218.3,672.3 C219.17,665.08 220.18,657.85 220.9,651.5 C221.62,645.15 222.03,639.1 222.6,634.2 C223.17,629.3 223.58,626.42 224.3,622.1 C225.02,617.78 226.17,613.48 226.9,608.3 C227.63,603.12 228.18,595.48 228.7,591 C229.22,586.52 229.58,581.98 230,581.4 C230.42,580.82 230.57,585.77 231.2,587.5 C231.83,589.23 233.07,588.33 233.8,591.8 C234.53,595.27 235.07,602.67 235.6,608.3 C236.13,613.93 236.57,618.4 237,625.6 C237.43,632.8 237.72,642.85 238.2,651.5 C238.68,660.15 239.18,668.83 239.9,677.5 C240.62,686.17 241.48,696.87 242.5,703.5 C243.52,710.13 244.55,714.28 246,717.3 C247.45,720.32 249.53,720.77 251.2,721.6 C252.87,722.43 255.2,722.18 256,722.3" fill="none" stroke="#a50a2e" stroke-width="2.05" stroke-linejoin="round" />
<line x1="88.2" y1="722" x2="260.8" y2="722" stroke="#7d0a24" stroke-width="1.2" />
<line x1="46" y1="740.4" x2="46" y2="576.5" stroke="#000" stroke-width="1.4" />
<path d="M46,568.5 L42,578.1 L46,576.4 L50,578.1 Z" fill="#000"/>
<line x1="77.1" y1="750.8" x2="248" y2="750.8" stroke="#000" stroke-width="1.4" />
<path d="M256,750.8 L246.6,746.9 L248.3,750.8 L246.6,754.7 Z" fill="#000"/>
<text transform="translate(38,638.5) rotate(-90) scale(0.5285,1)" x="0" y="0" font-size="16.5" text-anchor="middle" textLength="58.09" lengthAdjust="spacing" stroke="#000" stroke-width="0.45">Counts</text>
<text transform="translate(173.6,768.4) scale(0.6337,1)" x="0" y="0" font-size="14.5" text-anchor="middle" textLength="180.83" lengthAdjust="spacing" stroke="#000" stroke-width="0.45">ADAMTS13-AF488 (MFI)</text>
<rect x="285.7" y="619" width="5.4" height="5" fill="#2d4b7b"/>
<text x="296" y="624" font-size="10.8" text-anchor="start" font-weight="normal" fill="#000" >Blank</text>
<text x="296" y="635.6" font-size="10.8" text-anchor="start" font-weight="normal" fill="#000" >DCs</text>
<text x="296" y="647.2" font-size="10.8" text-anchor="start" font-weight="normal" fill="#000" >M&#981;</text>
<text x="296" y="659" font-size="10.8" text-anchor="start" font-weight="normal" fill="#000" textLength="56.3" lengthAdjust="spacing">M&#981; + IL-10</text>
<line x1="276.7" y1="632.9" x2="291.3" y2="632.9" stroke="#a50a2e" stroke-width="2" stroke-dasharray="1.7 1.55"/>
<line x1="276.7" y1="644.3" x2="291.3" y2="644.3" stroke="#a50a2e" stroke-width="2" stroke-dasharray="4.8 5.2"/>
<line x1="276.7" y1="656" x2="291.3" y2="656" stroke="#a50a2e" stroke-width="2" />
<rect x="444.2" y="62.5" width="16.9" height="125.6" fill="#a50030"/>
<line x1="452.65" y1="62.5" x2="452.65" y2="53.5" stroke="#000" stroke-width="1.3" />
<line x1="449.05" y1="53.5" x2="456.25" y2="53.5" stroke="#000" stroke-width="1.3" />
<rect x="466" y="121" width="17" height="67.1" fill="#2d4b7b"/>
<line x1="474.5" y1="121" x2="474.5" y2="117.5" stroke="#000" stroke-width="1.3" />
<line x1="470.9" y1="117.5" x2="478.1" y2="117.5" stroke="#000" stroke-width="1.3" />
<rect x="487.4" y="95" width="17.7" height="93.1" fill="#68a645"/>
<line x1="496.25" y1="95" x2="496.25" y2="83.8" stroke="#000" stroke-width="1.3" />
<line x1="492.65" y1="83.8" x2="499.85" y2="83.8" stroke="#000" stroke-width="1.3" />
<line x1="441.6" y1="25" x2="441.6" y2="188.8" stroke="#000" stroke-width="1.5" />
<line x1="440.9" y1="188.1" x2="507.5" y2="188.1" stroke="#000" stroke-width="1.5" />
<line x1="436.8" y1="27.5" x2="441.6" y2="27.5" stroke="#000" stroke-width="1.3" />
<text x="431.5" y="31.5" font-size="12.5" text-anchor="end" textLength="29.47" lengthAdjust="spacingAndGlyphs">6000</text>
<line x1="436.8" y1="81.4" x2="441.6" y2="81.4" stroke="#000" stroke-width="1.3" />
<text x="431.5" y="85.4" font-size="12.5" text-anchor="end" textLength="29.47" lengthAdjust="spacingAndGlyphs">4000</text>
<line x1="436.8" y1="134.8" x2="441.6" y2="134.8" stroke="#000" stroke-width="1.3" />
<text x="431.5" y="138.8" font-size="12.5" text-anchor="end" textLength="29.47" lengthAdjust="spacingAndGlyphs">2000</text>
<line x1="436.8" y1="188.1" x2="441.6" y2="188.1" stroke="#000" stroke-width="1.3" />
<text x="431.5" y="192.1" font-size="12.5" text-anchor="end" textLength="7.37" lengthAdjust="spacingAndGlyphs">0</text>
<line x1="452.6" y1="188.1" x2="452.6" y2="192.7" stroke="#000" stroke-width="1.3" />
<line x1="474.5" y1="188.1" x2="474.5" y2="192.7" stroke="#000" stroke-width="1.3" />
<line x1="496.3" y1="188.1" x2="496.3" y2="192.7" stroke="#000" stroke-width="1.3" />
<polygon points="474.65,107.18 475.42,109.02 477.41,109.18 475.89,110.48 476.35,112.42 474.65,111.38 472.95,112.42 473.41,110.48 471.89,109.18 473.88,109.02" fill="#000"/>
<text x="496.45" y="76.7" font-size="11" text-anchor="middle">ns</text>
<text transform="translate(394.3,106) rotate(-90) scale(0.6220,1)" x="0" y="0" font-size="15.5" text-anchor="middle" textLength="75.57" lengthAdjust="spacing" stroke="#000" stroke-width="0.45">MFI MMR</text>
<rect x="444.2" y="455" width="16.6" height="1.9" fill="#a50030"/>
<line x1="452.5" y1="455" x2="452.5" y2="453.9" stroke="#000" stroke-width="1.3" />
<line x1="448.9" y1="453.9" x2="456.1" y2="453.9" stroke="#000" stroke-width="1.3" />
<rect x="465.5" y="408.1" width="16.4" height="48.8" fill="#2d4b7b"/>
<line x1="473.7" y1="408.1" x2="473.7" y2="403.8" stroke="#000" stroke-width="1.3" />
<line x1="470.1" y1="403.8" x2="477.3" y2="403.8" stroke="#000" stroke-width="1.3" />
<rect x="487" y="328.2" width="16.5" height="128.7" fill="#68a645"/>
<line x1="495.25" y1="328.2" x2="495.25" y2="326.6" stroke="#000" stroke-width="1.3" />
<line x1="491.65" y1="326.6" x2="498.85" y2="326.6" stroke="#000" stroke-width="1.3" />
<line x1="441.5" y1="277.5" x2="441.5" y2="457.6" stroke="#000" stroke-width="1.5" />
<line x1="440.8" y1="456.9" x2="505.8" y2="456.9" stroke="#000" stroke-width="1.5" />
<line x1="436.7" y1="280.2" x2="441.5" y2="280.2" stroke="#000" stroke-width="1.3" />
<text x="431.5" y="284.2" font-size="12.5" text-anchor="end" textLength="36.84" lengthAdjust="spacingAndGlyphs">80000</text>
<line x1="436.7" y1="324.4" x2="441.5" y2="324.4" stroke="#000" stroke-width="1.3" />
<text x="431.5" y="328.4" font-size="12.5" text-anchor="end" textLength="36.84" lengthAdjust="spacingAndGlyphs">60000</text>
<line x1="436.7" y1="368.6" x2="441.5" y2="368.6" stroke="#000" stroke-width="1.3" />
<text x="431.5" y="372.6" font-size="12.5" text-anchor="end" textLength="36.84" lengthAdjust="spacingAndGlyphs">40000</text>
<line x1="436.7" y1="412.9" x2="441.5" y2="412.9" stroke="#000" stroke-width="1.3" />
<text x="431.5" y="416.9" font-size="12.5" text-anchor="end" textLength="36.84" lengthAdjust="spacingAndGlyphs">20000</text>
<line x1="436.7" y1="456.9" x2="441.5" y2="456.9" stroke="#000" stroke-width="1.3" />
<text x="431.5" y="460.9" font-size="12.5" text-anchor="end" textLength="7.37" lengthAdjust="spacingAndGlyphs">0</text>
<line x1="452.5" y1="456.9" x2="452.5" y2="461.5" stroke="#000" stroke-width="1.3" />
<line x1="473.7" y1="456.9" x2="473.7" y2="461.5" stroke="#000" stroke-width="1.3" />
<line x1="495.2" y1="456.9" x2="495.2" y2="461.5" stroke="#000" stroke-width="1.3" />
<polygon points="471.1,392.93 471.87,394.77 473.86,394.93 472.34,396.23 472.8,398.17 471.1,397.13 469.4,398.17 469.86,396.23 468.34,394.93 470.33,394.77" fill="#000"/>
<polygon points="476.7,392.93 477.47,394.77 479.46,394.93 477.94,396.23 478.4,398.17 476.7,397.13 475,398.17 475.46,396.23 473.94,394.93 475.93,394.77" fill="#000"/>
<polygon points="489.9,315.88 490.67,317.72 492.66,317.88 491.14,319.18 491.6,321.12 489.9,320.08 488.2,321.12 488.66,319.18 487.14,317.88 489.13,317.72" fill="#000"/>
<polygon points="495,315.88 495.77,317.72 497.76,317.88 496.24,319.18 496.7,321.12 495,320.08 493.3,321.12 493.76,319.18 492.24,317.88 494.23,317.72" fill="#000"/>
<polygon points="500.1,315.88 500.87,317.72 502.86,317.88 501.34,319.18 501.8,321.12 500.1,320.08 498.4,321.12 498.86,319.18 497.34,317.88 499.33,317.72" fill="#000"/>
<text transform="translate(387,366.8) rotate(-90) scale(0.5770,1)" x="0" y="0" font-size="15.5" text-anchor="middle" textLength="88.05" lengthAdjust="spacing" stroke="#000" stroke-width="0.45">MFI CD163</text>
<rect x="444.2" y="720.3" width="16.8" height="12.9" fill="#a50030"/>
<line x1="452.6" y1="720.3" x2="452.6" y2="716" stroke="#000" stroke-width="1.3" />
<line x1="449" y1="716" x2="456.2" y2="716" stroke="#000" stroke-width="1.3" />
<rect x="466.5" y="649.5" width="16.5" height="83.7" fill="#2d4b7b"/>
<line x1="474.75" y1="649.5" x2="474.75" y2="643.5" stroke="#000" stroke-width="1.3" />
<line x1="471.15" y1="643.5" x2="478.35" y2="643.5" stroke="#000" stroke-width="1.3" />
<rect x="488.1" y="597.4" width="16.9" height="135.8" fill="#68a645"/>
<line x1="496.55" y1="597.4" x2="496.55" y2="587.7" stroke="#000" stroke-width="1.3" />
<line x1="492.95" y1="587.7" x2="500.15" y2="587.7" stroke="#000" stroke-width="1.3" />
<line x1="441.5" y1="553.5" x2="441.5" y2="733.9" stroke="#000" stroke-width="1.5" />
<line x1="440.8" y1="733.2" x2="508" y2="733.2" stroke="#000" stroke-width="1.5" />
<line x1="436.7" y1="556" x2="441.5" y2="556" stroke="#000" stroke-width="1.3" />
<text x="431.5" y="560" font-size="12.5" text-anchor="end" textLength="36.84" lengthAdjust="spacingAndGlyphs">50000</text>
<line x1="436.7" y1="591.7" x2="441.5" y2="591.7" stroke="#000" stroke-width="1.3" />
<text x="431.5" y="595.7" font-size="12.5" text-anchor="end" textLength="36.84" lengthAdjust="spacingAndGlyphs">40000</text>
<line x1="436.7" y1="627.1" x2="441.5" y2="627.1" stroke="#000" stroke-width="1.3" />
<text x="431.5" y="631.1" font-size="12.5" text-anchor="end" textLength="36.84" lengthAdjust="spacingAndGlyphs">30000</text>
<line x1="436.7" y1="662.5" x2="441.5" y2="662.5" stroke="#000" stroke-width="1.3" />
<text x="431.5" y="666.5" font-size="12.5" text-anchor="end" textLength="36.84" lengthAdjust="spacingAndGlyphs">20000</text>
<line x1="436.7" y1="698.2" x2="441.5" y2="698.2" stroke="#000" stroke-width="1.3" />
<text x="431.5" y="702.2" font-size="12.5" text-anchor="end" textLength="36.84" lengthAdjust="spacingAndGlyphs">10000</text>
<line x1="436.7" y1="733.2" x2="441.5" y2="733.2" stroke="#000" stroke-width="1.3" />
<text x="431.5" y="737.2" font-size="12.5" text-anchor="end" textLength="7.37" lengthAdjust="spacingAndGlyphs">0</text>
<line x1="452.6" y1="733.2" x2="452.6" y2="737.8" stroke="#000" stroke-width="1.3" />
<line x1="474.7" y1="733.2" x2="474.7" y2="737.8" stroke="#000" stroke-width="1.3" />
<line x1="496.5" y1="733.2" x2="496.5" y2="737.8" stroke="#000" stroke-width="1.3" />
<polygon points="471.75,633.73 472.52,635.57 474.51,635.73 472.99,637.03 473.45,638.97 471.75,637.93 470.05,638.97 470.51,637.03 468.99,635.73 470.98,635.57" fill="#000"/>
<polygon points="477.35,633.73 478.12,635.57 480.11,635.73 478.59,637.03 479.05,638.97 477.35,637.93 475.65,638.97 476.11,637.03 474.59,635.73 476.58,635.57" fill="#000"/>
<polygon points="493.55,578.18 494.32,580.02 496.31,580.18 494.79,581.48 495.25,583.42 493.55,582.38 491.85,583.42 492.31,581.48 490.79,580.18 492.78,580.02" fill="#000"/>
<polygon points="499.15,578.18 499.92,580.02 501.91,580.18 500.39,581.48 500.85,583.42 499.15,582.38 497.45,583.42 497.91,581.48 496.39,580.18 498.38,580.02" fill="#000"/>
<text transform="translate(386.4,642.7) rotate(-90) scale(0.5921,1)" x="0" y="0" font-size="15.5" text-anchor="middle" textLength="180.88" lengthAdjust="spacing" stroke="#000" stroke-width="0.45">MFI ADAMTS13-AF488</text>
<text transform="translate(460.4,201.4) rotate(-45)" x="0" y="0" font-size="12.8" text-anchor="end">DCs</text>
<text transform="translate(482.4,201.4) rotate(-45)" x="0" y="0" font-size="12.8" text-anchor="end">M&#981;</text>
<text transform="translate(504.6,201.4) rotate(-45)" x="0" y="0" font-size="12.8" text-anchor="end">M&#981; + IL-10</text>
<text transform="translate(460.4,470.2) rotate(-45)" x="0" y="0" font-size="12.8" text-anchor="end">DCs</text>
<text transform="translate(482.4,470.2) rotate(-45)" x="0" y="0" font-size="12.8" text-anchor="end">M&#981;</text>
<text transform="translate(504.6,470.2) rotate(-45)" x="0" y="0" font-size="12.8" text-anchor="end">M&#981; + IL-10</text>
<text transform="translate(460.4,746.5) rotate(-45)" x="0" y="0" font-size="12.8" text-anchor="end">DCs</text>
<text transform="translate(482.4,746.5) rotate(-45)" x="0" y="0" font-size="12.8" text-anchor="end">M&#981;</text>
<text transform="translate(504.6,746.5) rotate(-45)" x="0" y="0" font-size="12.8" text-anchor="end">M&#981; + IL-10</text>
<rect x="90" y="895.7" width="15" height="70.9" fill="#a50030"/>
<rect x="110.5" y="901.2" width="14.6" height="65.4" fill="#2d4b7b"/>
<line x1="117.8" y1="901.2" x2="117.8" y2="896.6" stroke="#000" stroke-width="1.3" />
<line x1="114.2" y1="896.6" x2="121.4" y2="896.6" stroke="#000" stroke-width="1.3" />
<rect x="130.2" y="931.9" width="14.7" height="34.7" fill="#68a645"/>
<line x1="137.55" y1="931.9" x2="137.55" y2="926.4" stroke="#000" stroke-width="1.3" />
<line x1="133.95" y1="926.4" x2="141.15" y2="926.4" stroke="#000" stroke-width="1.3" />
<rect x="150.7" y="935" width="14.6" height="31.6" fill="#4f2768"/>
<line x1="158" y1="935" x2="158" y2="929.7" stroke="#000" stroke-width="1.3" />
<line x1="154.4" y1="929.7" x2="161.6" y2="929.7" stroke="#000" stroke-width="1.3" />
<line x1="87.7" y1="855.1" x2="87.7" y2="967.3" stroke="#000" stroke-width="1.5" />
<line x1="87" y1="966.6" x2="166.8" y2="966.6" stroke="#000" stroke-width="1.5" />
<line x1="82.9" y1="860.1" x2="87.7" y2="860.1" stroke="#000" stroke-width="1.3" />
<text x="78.6" y="864.1" font-size="12.5" text-anchor="end" textLength="22.94" lengthAdjust="spacingAndGlyphs">150</text>
<line x1="82.9" y1="895.7" x2="87.7" y2="895.7" stroke="#000" stroke-width="1.3" />
<text x="78.6" y="899.7" font-size="12.5" text-anchor="end" textLength="22.94" lengthAdjust="spacingAndGlyphs">100</text>
<line x1="82.9" y1="931" x2="87.7" y2="931" stroke="#000" stroke-width="1.3" />
<text x="78.6" y="935" font-size="12.5" text-anchor="end" textLength="15.29" lengthAdjust="spacingAndGlyphs">50</text>
<line x1="82.9" y1="966.6" x2="87.7" y2="966.6" stroke="#000" stroke-width="1.3" />
<text x="78.6" y="970.6" font-size="12.5" text-anchor="end" textLength="7.65" lengthAdjust="spacingAndGlyphs">0</text>
<line x1="97.7" y1="966.6" x2="97.7" y2="971.2" stroke="#000" stroke-width="1.3" />
<line x1="117.8" y1="966.6" x2="117.8" y2="971.2" stroke="#000" stroke-width="1.3" />
<line x1="137.5" y1="966.6" x2="137.5" y2="971.2" stroke="#000" stroke-width="1.3" />
<line x1="158" y1="966.6" x2="158" y2="971.2" stroke="#000" stroke-width="1.3" />
<text x="127.5" y="845.1" font-size="15" text-anchor="middle" font-weight="bold" fill="#000" >DCs</text>
<text transform="translate(46.9,910.8) rotate(-90) scale(0.6653,1)" x="0" y="0" font-size="14.6" text-anchor="middle" textLength="67.64" lengthAdjust="spacing" stroke="#000" stroke-width="0.45">% uptake</text>
<text transform="translate(102.2,979.7) rotate(-45)" x="0" y="0" font-size="12.5" text-anchor="end">-</text>
<text transform="translate(126,980.8) rotate(-45)" x="0" y="0" font-size="12.7" text-anchor="end">EDHu-1</text>
<text transform="translate(145.7,980.8) rotate(-45)" x="0" y="0" font-size="12.7" text-anchor="end">Clone 15.2</text>
<text transform="translate(166.2,980.8) rotate(-45)" x="0" y="0" font-size="12.7" text-anchor="end">EDHu-1 +Clone 15.2</text>
<text x="118.15" y="894.1" font-size="11" text-anchor="middle">ns</text>
<polygon points="134.7,918.03 135.47,919.87 137.46,920.03 135.94,921.33 136.4,923.27 134.7,922.23 133,923.27 133.46,921.33 131.94,920.03 133.93,919.87" fill="#000"/>
<polygon points="140.3,918.03 141.07,919.87 143.06,920.03 141.54,921.33 142,923.27 140.3,922.23 138.6,923.27 139.06,921.33 137.54,920.03 139.53,919.87" fill="#000"/>
<polygon points="155.25,920.58 156.02,922.42 158.01,922.58 156.49,923.88 156.95,925.82 155.25,924.78 153.55,925.82 154.01,923.88 152.49,922.58 154.48,922.42" fill="#000"/>
<polygon points="160.85,920.58 161.62,922.42 163.61,922.58 162.09,923.88 162.55,925.82 160.85,924.78 159.15,925.82 159.61,923.88 158.09,922.58 160.08,922.42" fill="#000"/>
<rect x="250.2" y="894.8" width="15" height="71.9" fill="#a50030"/>
<rect x="270.4" y="921.9" width="15.4" height="44.8" fill="#2d4b7b"/>
<line x1="278.1" y1="921.9" x2="278.1" y2="912.7" stroke="#000" stroke-width="1.3" />
<line x1="274.5" y1="912.7" x2="281.7" y2="912.7" stroke="#000" stroke-width="1.3" />
<rect x="291" y="900.8" width="15" height="65.9" fill="#68a645"/>
<line x1="298.5" y1="900.8" x2="298.5" y2="894.4" stroke="#000" stroke-width="1.3" />
<line x1="294.9" y1="894.4" x2="302.1" y2="894.4" stroke="#000" stroke-width="1.3" />
<rect x="311.2" y="925.2" width="15" height="41.5" fill="#4f2768"/>
<line x1="318.7" y1="925.2" x2="318.7" y2="913.7" stroke="#000" stroke-width="1.3" />
<line x1="315.1" y1="913.7" x2="322.3" y2="913.7" stroke="#000" stroke-width="1.3" />
<line x1="247.3" y1="854" x2="247.3" y2="967.4" stroke="#000" stroke-width="1.5" />
<line x1="246.6" y1="966.7" x2="328.8" y2="966.7" stroke="#000" stroke-width="1.5" />
<line x1="242.5" y1="858.3" x2="247.3" y2="858.3" stroke="#000" stroke-width="1.3" />
<text x="238.2" y="862.3" font-size="12.5" text-anchor="end" textLength="22.94" lengthAdjust="spacingAndGlyphs">150</text>
<line x1="242.5" y1="894.8" x2="247.3" y2="894.8" stroke="#000" stroke-width="1.3" />
<text x="238.2" y="898.8" font-size="12.5" text-anchor="end" textLength="22.94" lengthAdjust="spacingAndGlyphs">100</text>
<line x1="242.5" y1="930.6" x2="247.3" y2="930.6" stroke="#000" stroke-width="1.3" />
<text x="238.2" y="934.6" font-size="12.5" text-anchor="end" textLength="15.29" lengthAdjust="spacingAndGlyphs">50</text>
<line x1="242.5" y1="966.7" x2="247.3" y2="966.7" stroke="#000" stroke-width="1.3" />
<text x="238.2" y="970.7" font-size="12.5" text-anchor="end" textLength="7.65" lengthAdjust="spacingAndGlyphs">0</text>
<line x1="257.5" y1="966.7" x2="257.5" y2="971.3" stroke="#000" stroke-width="1.3" />
<line x1="278.1" y1="966.7" x2="278.1" y2="971.3" stroke="#000" stroke-width="1.3" />
<line x1="297.9" y1="966.7" x2="297.9" y2="971.3" stroke="#000" stroke-width="1.3" />
<line x1="318.8" y1="966.7" x2="318.8" y2="971.3" stroke="#000" stroke-width="1.3" />
<text x="288" y="845.1" font-size="15" text-anchor="middle" font-weight="bold" fill="#000" >M&#981;</text>
<text transform="translate(206.1,910.8) rotate(-90) scale(0.6653,1)" x="0" y="0" font-size="14.6" text-anchor="middle" textLength="67.64" lengthAdjust="spacing" stroke="#000" stroke-width="0.45">% uptake</text>
<text transform="translate(262,979.8) rotate(-45)" x="0" y="0" font-size="12.5" text-anchor="end">-</text>
<text transform="translate(286.3,980.9) rotate(-45)" x="0" y="0" font-size="12.7" text-anchor="end">EDHu-1</text>
<text transform="translate(306.1,980.9) rotate(-45)" x="0" y="0" font-size="12.7" text-anchor="end">Clone 15.2</text>
<text transform="translate(327,980.9) rotate(-45)" x="0" y="0" font-size="12.7" text-anchor="end">EDHu-1 +Clone 15.2</text>
<polygon points="275.45,904.28 276.22,906.12 278.21,906.28 276.69,907.58 277.15,909.52 275.45,908.48 273.75,909.52 274.21,907.58 272.69,906.28 274.68,906.12" fill="#000"/>
<polygon points="281.05,904.28 281.82,906.12 283.81,906.28 282.29,907.58 282.75,909.52 281.05,908.48 279.35,909.52 279.81,907.58 278.29,906.28 280.28,906.12" fill="#000"/>
<text x="298.45" y="889.6" font-size="11" text-anchor="middle">ns</text>
<polygon points="316.15,904.48 316.92,906.32 318.91,906.48 317.39,907.78 317.85,909.72 316.15,908.68 314.45,909.72 314.91,907.78 313.39,906.48 315.38,906.32" fill="#000"/>
<polygon points="321.75,904.48 322.52,906.32 324.51,906.48 322.99,907.78 323.45,909.72 321.75,908.68 320.05,909.72 320.51,907.78 318.99,906.48 320.98,906.32" fill="#000"/>
<rect x="410" y="895" width="15" height="71.5" fill="#a50030"/>
<rect x="430.4" y="947.9" width="15.2" height="18.6" fill="#2d4b7b"/>
<line x1="438" y1="947.9" x2="438" y2="943.5" stroke="#000" stroke-width="1.3" />
<line x1="434.4" y1="943.5" x2="441.6" y2="943.5" stroke="#000" stroke-width="1.3" />
<rect x="450.4" y="902.7" width="15.4" height="63.8" fill="#68a645"/>
<line x1="458.1" y1="902.7" x2="458.1" y2="896.3" stroke="#000" stroke-width="1.3" />
<line x1="454.5" y1="896.3" x2="461.7" y2="896.3" stroke="#000" stroke-width="1.3" />
<rect x="471.2" y="946.9" width="14.8" height="19.6" fill="#4f2768"/>
<line x1="478.6" y1="946.9" x2="478.6" y2="941.9" stroke="#000" stroke-width="1.3" />
<line x1="475" y1="941.9" x2="482.2" y2="941.9" stroke="#000" stroke-width="1.3" />
<line x1="407.7" y1="854.6" x2="407.7" y2="967.2" stroke="#000" stroke-width="1.5" />
<line x1="407" y1="966.5" x2="488.5" y2="966.5" stroke="#000" stroke-width="1.5" />
<line x1="402.9" y1="858.8" x2="407.7" y2="858.8" stroke="#000" stroke-width="1.3" />
<text x="398.6" y="862.8" font-size="12.5" text-anchor="end" textLength="22.94" lengthAdjust="spacingAndGlyphs">150</text>
<line x1="402.9" y1="895" x2="407.7" y2="895" stroke="#000" stroke-width="1.3" />
<text x="398.6" y="899" font-size="12.5" text-anchor="end" textLength="22.94" lengthAdjust="spacingAndGlyphs">100</text>
<line x1="402.9" y1="930.6" x2="407.7" y2="930.6" stroke="#000" stroke-width="1.3" />
<text x="398.6" y="934.6" font-size="12.5" text-anchor="end" textLength="15.29" lengthAdjust="spacingAndGlyphs">50</text>
<line x1="402.9" y1="966.5" x2="407.7" y2="966.5" stroke="#000" stroke-width="1.3" />
<text x="398.6" y="970.5" font-size="12.5" text-anchor="end" textLength="7.65" lengthAdjust="spacingAndGlyphs">0</text>
<line x1="417.7" y1="966.5" x2="417.7" y2="971.1" stroke="#000" stroke-width="1.3" />
<line x1="437.9" y1="966.5" x2="437.9" y2="971.1" stroke="#000" stroke-width="1.3" />
<line x1="457.3" y1="966.5" x2="457.3" y2="971.1" stroke="#000" stroke-width="1.3" />
<line x1="478.5" y1="966.5" x2="478.5" y2="971.1" stroke="#000" stroke-width="1.3" />
<text x="448.1" y="845.1" font-size="15" text-anchor="middle" font-weight="bold" fill="#000" >M&#981; + IL-10</text>
<text transform="translate(366.7,910.8) rotate(-90) scale(0.6653,1)" x="0" y="0" font-size="14.6" text-anchor="middle" textLength="67.64" lengthAdjust="spacing" stroke="#000" stroke-width="0.45">% uptake</text>
<text transform="translate(422.2,979.6) rotate(-45)" x="0" y="0" font-size="12.5" text-anchor="end">-</text>
<text transform="translate(446.1,980.7) rotate(-45)" x="0" y="0" font-size="12.7" text-anchor="end">EDHu-1</text>
<text transform="translate(465.5,980.7) rotate(-45)" x="0" y="0" font-size="12.7" text-anchor="end">Clone 15.2</text>
<text transform="translate(486.7,980.7) rotate(-45)" x="0" y="0" font-size="12.7" text-anchor="end">EDHu-1 +Clone 15.2</text>
<polygon points="435.2,935.88 435.97,937.72 437.96,937.88 436.44,939.18 436.9,941.12 435.2,940.08 433.5,941.12 433.96,939.18 432.44,937.88 434.43,937.72" fill="#000"/>
<polygon points="440.8,935.88 441.57,937.72 443.56,937.88 442.04,939.18 442.5,941.12 440.8,940.08 439.1,941.12 439.56,939.18 438.04,937.88 440.03,937.72" fill="#000"/>
<text x="458.15" y="892.1" font-size="11" text-anchor="middle">ns</text>
<polygon points="475.8,934.18 476.57,936.02 478.56,936.18 477.04,937.48 477.5,939.42 475.8,938.38 474.1,939.42 474.56,937.48 473.04,936.18 475.03,936.02" fill="#000"/>
<polygon points="481.4,934.18 482.17,936.02 484.16,936.18 482.64,937.48 483.1,939.42 481.4,938.38 479.7,939.42 480.16,937.48 478.64,936.18 480.63,936.02" fill="#000"/>
<rect x="0.85" y="0.85" width="518.3" height="1074.3" fill="none" stroke="#000" stroke-width="1.7"/>
</svg>
</body></html>
